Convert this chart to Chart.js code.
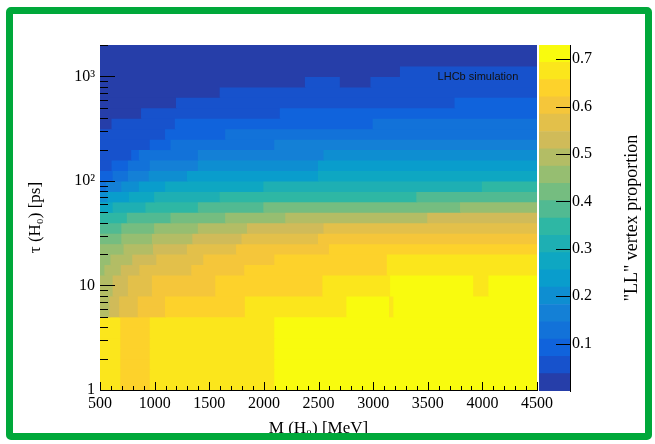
<!DOCTYPE html>
<html>
<head>
<meta charset="utf-8">
<script src="https://cdn.jsdelivr.net/npm/chart.js@4.4.1/dist/chart.umd.min.js"></script>
<style>
  html, body { margin: 0; padding: 0; background: #fff; }
  #wrap { position: relative; width: 655px; height: 444px; overflow: hidden; }
  #wrap canvas { position: absolute; left: 0; top: 0; }
  #frame { position: absolute; left: 6px; top: 7px; width: 632px; height: 419px;
           border: 7px solid #00a83a; border-radius: 5px; pointer-events: none; }
</style>
</head>
<body>
<div id="wrap">
  <canvas id="heat" width="655" height="444"></canvas>
  <canvas id="zbar" width="655" height="444"></canvas>
  <div id="frame"></div>
</div>
<script>
// axis ranges and tick labels
const massMin = 500, massMax = 4500;
const massTicks = [500, 1000, 1500, 2000, 2500, 3000, 3500, 4000, 4500];
const tauMin = 1, tauMax = 2000;
const tauTicks = [1, 10, 100, 1000];
const tauTickLabels = ['1', '10', '10\u00b2', '10\u00b3'];
const zMax = 0.73;
const nBands = 20;
const zTicks = [0.1, 0.2, 0.3, 0.4, 0.5, 0.6, 0.7];

// lifetime rows (bin centres, 0.1 decade wide), bottom to top
const tauRows = [1.122, 1.413, 1.778, 2.239, 2.818, 3.548, 4.467, 5.623, 7.079, 8.913,
  11.22, 14.13, 17.78, 22.39, 28.18, 35.48, 44.67, 56.23, 70.79, 89.13,
  112.2, 141.3, 177.8, 223.9, 281.8, 354.8, 446.7, 562.3, 707.9, 891.3,
  1122, 1413, 1778];

// for every row: mass where each run starts, and the LL proportion of that run
const rowStarts = [
  [500, 690, 960, 2100],
  [500, 690, 960, 2100],
  [500, 690, 960, 2100],
  [500, 690, 960, 2100],
  [500, 690, 960, 2100],
  [500, 690, 960, 2100],
  [500, 690, 960, 2100],
  [500, 590, 680, 850, 1100, 1830, 2760, 3150, 3190],
  [500, 590, 680, 850, 1100, 1830, 2760, 3150, 3190],
  [500, 620, 760, 980, 1560, 2540, 3160, 3920, 4060],
  [500, 620, 760, 980, 1560, 2540, 3160, 3920, 4060],
  [500, 545, 695, 865, 1340, 1825, 3130],
  [500, 600, 800, 1020, 1450, 2100, 3130],
  [500, 720, 990, 1300, 1750, 2600],
  [500, 700, 980, 1350, 1800, 2500],
  [500, 700, 1000, 1400, 1850, 2550],
  [500, 750, 1150, 1650, 2200, 3500],
  [500, 620, 920, 1400, 2000, 3800],
  [500, 570, 770, 1000, 1600, 3400],
  [500, 560, 700, 860, 1100, 2000, 4000],
  [500, 620, 760, 950, 1300, 2500],
  [500, 610, 760, 960, 1400, 2500],
  [500, 790, 860, 1400, 2550],
  [500, 960, 1150, 2100],
  [500, 1100, 1650],
  [500, 610, 1190, 3000],
  [500, 880, 2150],
  [500, 1200, 3750],
  [500, 1600],
  [500, 2380, 2700, 2980],
  [500, 3250],
  [500],
  [500]
];
const rowValues = [
  [0.68, 0.64, 0.68, 0.71],
  [0.68, 0.64, 0.68, 0.71],
  [0.68, 0.64, 0.68, 0.71],
  [0.68, 0.64, 0.68, 0.71],
  [0.68, 0.64, 0.68, 0.71],
  [0.68, 0.64, 0.68, 0.71],
  [0.68, 0.64, 0.68, 0.71],
  [0.49, 0.53, 0.57, 0.60, 0.64, 0.68, 0.71, 0.68, 0.71],
  [0.49, 0.53, 0.57, 0.60, 0.64, 0.68, 0.71, 0.68, 0.71],
  [0.49, 0.53, 0.57, 0.60, 0.64, 0.68, 0.71, 0.68, 0.71],
  [0.49, 0.53, 0.57, 0.60, 0.64, 0.68, 0.71, 0.68, 0.71],
  [0.46, 0.49, 0.53, 0.57, 0.60, 0.64, 0.68],
  [0.46, 0.49, 0.53, 0.57, 0.60, 0.64, 0.68],
  [0.46, 0.49, 0.53, 0.57, 0.60, 0.64],
  [0.42, 0.46, 0.49, 0.53, 0.57, 0.60],
  [0.38, 0.42, 0.46, 0.49, 0.53, 0.57],
  [0.35, 0.38, 0.42, 0.46, 0.49, 0.53],
  [0.27, 0.31, 0.35, 0.38, 0.42, 0.46],
  [0.20, 0.24, 0.27, 0.31, 0.35, 0.38],
  [0.13, 0.16, 0.20, 0.24, 0.27, 0.31, 0.35],
  [0.09, 0.13, 0.16, 0.20, 0.24, 0.27],
  [0.05, 0.09, 0.13, 0.16, 0.20, 0.24],
  [0.05, 0.09, 0.13, 0.16, 0.20],
  [0.05, 0.09, 0.13, 0.16],
  [0.05, 0.09, 0.13],
  [0.02, 0.05, 0.09, 0.13],
  [0.02, 0.05, 0.09],
  [0.02, 0.05, 0.09],
  [0.02, 0.05],
  [0.02, 0.05, 0.02, 0.05],
  [0.02, 0.05],
  [0.02],
  [0.02]
];

// ROOT "bird" palette
const birdStops = [0.0, 0.125, 0.25, 0.375, 0.5, 0.625, 0.75, 0.875, 1.0];
const birdR = [0.2082, 0.0592, 0.0780, 0.0232, 0.1802, 0.5301, 0.8186, 0.9956, 0.9764];
const birdG = [0.1664, 0.3599, 0.5041, 0.6419, 0.7178, 0.7492, 0.7328, 0.7862, 0.9832];
const birdB = [0.5293, 0.8684, 0.8385, 0.7914, 0.6425, 0.4662, 0.3499, 0.1968, 0.0539];

function birdAt(f) {
  let i = 0;
  while (i < birdStops.length - 2 && f > birdStops[i + 1]) i++;
  const t = Math.min(1, Math.max(0, (f - birdStops[i]) / (birdStops[i + 1] - birdStops[i])));
  const c = arr => Math.round(255 * (arr[i] + t * (arr[i + 1] - arr[i])));
  return `rgb(${c(birdR)},${c(birdG)},${c(birdB)})`;
}
function bandOf(v) {
  return Math.min(nBands - 1, Math.max(0, Math.floor(v / zMax * nBands)));
}
function bandColor(v) {
  return birdAt((bandOf(v) + 0.99) / nBands);
}

Chart.defaults.font.family = '"Liberation Serif", "Times New Roman", serif';
Chart.defaults.color = '#000';

const cells = [];
tauRows.forEach((tau, k) => {
  const starts = rowStarts[k];
  starts.forEach((m, j) => {
    const end = j + 1 < starts.length ? starts[j + 1] : massMax;
    cells.push({ y: tau, x: [m, end], v: rowValues[k][j] });
  });
});

// ROOT style inward tick marks + label
const rootAxes = {
  id: 'rootAxes',
  afterDatasetsDraw(chart) {
    const { ctx, chartArea: a, scales: { x, y } } = chart;
    ctx.save();
    ctx.strokeStyle = '#000';
    ctx.lineWidth = 1;
    ctx.beginPath();
    for (let m = massMin; m <= massMax; m += 100) {
      const px = Math.round(x.getPixelForValue(m)) + 0.5;
      const len = m % 500 === 0 ? 8 : 4;
      ctx.moveTo(px, a.bottom);
      ctx.lineTo(px, a.bottom - len);
    }
    tauTicks.forEach(d => {
      for (let i = 1; i <= 9; i++) {
        const v = d * i;
        if (v > tauMax) break;
        const py = Math.round(y.getPixelForValue(v)) + 0.5;
        const len = i === 1 ? 15 : 8;
        ctx.moveTo(a.left, py);
        ctx.lineTo(a.left + len, py);
      }
    });
    ctx.stroke();
    ctx.fillStyle = '#111';
    ctx.font = '11px "Liberation Sans", Arial, sans-serif';
    ctx.textBaseline = 'middle';
    ctx.textAlign = 'left';
    ctx.fillText('LHCb simulation', x.getPixelForValue(3590), y.getPixelForValue(980));
    ctx.restore();
  }
};

new Chart(document.getElementById('heat'), {
  type: 'bar',
  data: {
    datasets: [{
      data: cells,
      backgroundColor: c => bandColor(c.raw.v),
      borderWidth: 0,
      barPercentage: 1,
      categoryPercentage: 1,
      inflateAmount: 0.5
    }]
  },
  options: {
    indexAxis: 'y',
    responsive: false,
    animation: false,
    devicePixelRatio: 1,
    layout: { padding: { left: 0, top: 45, right: 118, bottom: 0 } },
    plugins: { legend: { display: false }, tooltip: { enabled: false } },
    scales: {
      x: {
        type: 'linear', min: massMin, max: massMax, offset: false,
        afterBuildTicks: s => { s.ticks = massTicks.map(v => ({ value: v })); },
        afterFit: s => { s.height = 54; s.paddingLeft = 0; s.paddingRight = 0; },
        grid: { display: false, drawTicks: false, offset: false },
        border: { display: true, color: '#000', width: 1 },
        ticks: { callback: v => String(v), font: { size: 16 }, padding: 4, maxRotation: 0, autoSkip: false },
        title: { display: true, text: 'M (H\u2080) [MeV]', font: { size: 17 }, padding: { top: 0, bottom: 5 } }
      },
      y: {
        type: 'logarithmic', min: tauMin, max: tauMax, offset: false,
        afterBuildTicks: s => { s.ticks = tauTicks.map(v => ({ value: v })); },
        afterFit: s => { s.width = 100; s.paddingTop = 0; s.paddingBottom = 0; },
        grid: { display: false, drawTicks: false, offset: false },
        border: { display: true, color: '#000', width: 1 },
        ticks: { callback: v => tauTickLabels[tauTicks.indexOf(v)], font: { size: 16 }, padding: 5, autoSkip: false },
        title: { display: true, text: '\u03c4 (H\u2080) [ps]', font: { size: 17 }, padding: { top: 25, bottom: 0 } }
      }
    }
  },
  plugins: [rootAxes]
});

// colour scale
const zLevels = [];
for (let i = 0; i <= nBands; i++) zLevels.push(zMax * i / nBands);

const zAxisDeco = {
  id: 'zAxisDeco',
  afterDatasetsDraw(chart) {
    const { ctx, chartArea: a, scales: { y } } = chart;
    ctx.save();
    ctx.strokeStyle = '#000';
    ctx.lineWidth = 1;
    ctx.beginPath();
    zTicks.forEach(v => {
      const py = Math.round(y.getPixelForValue(v)) + 0.5;
      ctx.moveTo(a.right, py);
      ctx.lineTo(a.right - 14, py);
    });
    ctx.stroke();
    ctx.translate(a.right + 62, (a.top + a.bottom) / 2);
    ctx.rotate(-Math.PI / 2);
    ctx.fillStyle = '#000';
    ctx.font = '18px "Liberation Serif", "Times New Roman", serif';
    ctx.textAlign = 'center';
    ctx.textBaseline = 'middle';
    ctx.fillText('"LL" vertex proportion', 0, 0);
    ctx.restore();
  }
};

new Chart(document.getElementById('zbar'), {
  type: 'bar',
  data: {
    labels: [''],
    datasets: zLevels.slice(0, -1).map((lo, i) => ({
      data: [[lo, zLevels[i + 1]]],
      backgroundColor: bandColor((lo + zLevels[i + 1]) / 2),
      borderWidth: 0,
      grouped: false,
      barPercentage: 1,
      categoryPercentage: 1
    }))
  },
  options: {
    responsive: false,
    animation: false,
    devicePixelRatio: 1,
    layout: { padding: { left: 539, top: 45, right: 0, bottom: 53 } },
    plugins: { legend: { display: false }, tooltip: { enabled: false } },
    scales: {
      x: { display: false },
      y: {
        position: 'right', min: 0, max: zMax,
        afterBuildTicks: s => { s.ticks = zTicks.map(v => ({ value: v })); },
        afterFit: s => { s.width = 85; s.paddingTop = 0; s.paddingBottom = 0; },
        grid: { display: false, drawTicks: false },
        border: { display: true, color: '#000', width: 1 },
        ticks: { callback: v => v.toFixed(1), font: { size: 16 }, padding: 2, autoSkip: false }
      }
    }
  },
  plugins: [zAxisDeco]
});
</script>
</body>
</html>
